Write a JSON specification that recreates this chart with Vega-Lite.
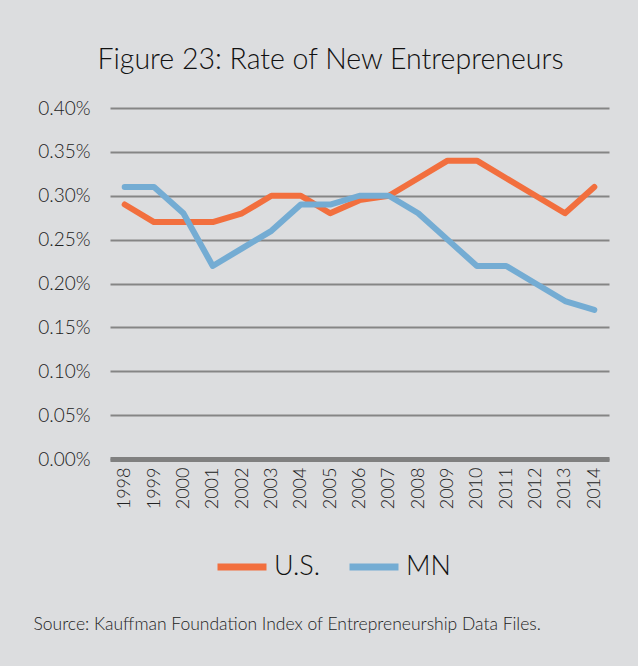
{
  "$schema": "https://vega.github.io/schema/vega-lite/v6.json",
  "autosize": {"type": "none"},
  "width": 499,
  "height": 351,
  "padding": {"left": 110, "top": 108, "right": 29, "bottom": 207},
  "background": "#dcdddf",
  "config": {
    "view": {"stroke": null},
    "font": "Lato"
  },
  "title": {
    "text": "Figure 23: Rate of New Entrepreneurs",
    "fontSize": 28.5,
    "fontWeight": 300,
    "font": "Lato",
    "color": "#111111",
    "anchor": "middle",
    "dx": -29,
    "offset": 25,
    "limit": 0
  },
  "data": {
    "values": [
      {"year": "1998", "series": "U.S.", "rate": 0.29},
      {"year": "1999", "series": "U.S.", "rate": 0.27},
      {"year": "2000", "series": "U.S.", "rate": 0.27},
      {"year": "2001", "series": "U.S.", "rate": 0.27},
      {"year": "2002", "series": "U.S.", "rate": 0.28},
      {"year": "2003", "series": "U.S.", "rate": 0.30},
      {"year": "2004", "series": "U.S.", "rate": 0.30},
      {"year": "2005", "series": "U.S.", "rate": 0.28},
      {"year": "2006", "series": "U.S.", "rate": 0.295},
      {"year": "2007", "series": "U.S.", "rate": 0.30},
      {"year": "2008", "series": "U.S.", "rate": 0.32},
      {"year": "2009", "series": "U.S.", "rate": 0.34},
      {"year": "2010", "series": "U.S.", "rate": 0.34},
      {"year": "2011", "series": "U.S.", "rate": 0.32},
      {"year": "2012", "series": "U.S.", "rate": 0.30},
      {"year": "2013", "series": "U.S.", "rate": 0.28},
      {"year": "2014", "series": "U.S.", "rate": 0.31},
      {"year": "1998", "series": "MN", "rate": 0.31},
      {"year": "1999", "series": "MN", "rate": 0.31},
      {"year": "2000", "series": "MN", "rate": 0.28},
      {"year": "2001", "series": "MN", "rate": 0.22},
      {"year": "2002", "series": "MN", "rate": 0.24},
      {"year": "2003", "series": "MN", "rate": 0.26},
      {"year": "2004", "series": "MN", "rate": 0.29},
      {"year": "2005", "series": "MN", "rate": 0.29},
      {"year": "2006", "series": "MN", "rate": 0.30},
      {"year": "2007", "series": "MN", "rate": 0.30},
      {"year": "2008", "series": "MN", "rate": 0.28},
      {"year": "2009", "series": "MN", "rate": 0.25},
      {"year": "2010", "series": "MN", "rate": 0.22},
      {"year": "2011", "series": "MN", "rate": 0.22},
      {"year": "2012", "series": "MN", "rate": 0.20},
      {"year": "2013", "series": "MN", "rate": 0.18},
      {"year": "2014", "series": "MN", "rate": 0.17}
    ]
  },
  "mark": {"type": "line", "strokeWidth": 6, "strokeCap": "round", "strokeJoin": "round"},
  "encoding": {
    "x": {
      "field": "year",
      "type": "ordinal",
      "scale": {"type": "point", "padding": 0.5},
      "axis": {
        "title": "Source: Kauffman Foundation Index of Entrepreneurship Data Files.",
        "titleFont": "Lato",
        "titleFontSize": 17.5,
        "titleFontWeight": 300,
        "titleColor": "#222222",
        "titleAlign": "left",
        "titleAnchor": "start",
        "titleBaseline": "alphabetic",
        "titleX": -77,
        "titleY": 170,
        "titleLimit": 0,
        "labelAngle": -90,
        "labelAlign": "right",
        "labelBaseline": "middle",
        "labelFontSize": 18,
        "labelFontWeight": 300,
        "labelColor": "#222222",
        "labelPadding": 8,
        "ticks": false,
        "domain": true,
        "domainColor": "#808080",
        "domainWidth": 5,
        "grid": false
      }
    },
    "y": {
      "field": "rate",
      "type": "quantitative",
      "scale": {"domain": [0, 0.4], "nice": false},
      "axis": {
        "title": null,
        "values": [0, 0.05, 0.1, 0.15, 0.2, 0.25, 0.3, 0.35, 0.4],
        "labelExpr": "format(datum.value, '.2f') + '%'",
        "labelFontSize": 19,
        "labelFontWeight": 300,
        "labelColor": "#222222",
        "labelPadding": 20,
        "ticks": false,
        "domain": false,
        "grid": true,
        "gridColor": "#858585",
        "gridWidth": 2
      }
    },
    "color": {
      "field": "series",
      "type": "nominal",
      "sort": ["U.S.", "MN"],
      "scale": {"domain": ["U.S.", "MN"], "range": ["#f26f3e", "#74acd3"]},
      "legend": {
        "title": null,
        "orient": "none",
        "direction": "horizontal",
        "legendX": 104,
        "legendY": 431,
        "symbolType": "stroke",
        "symbolSize": 2400,
        "symbolStrokeWidth": 7,
        "labelFontSize": 27,
        "labelFontWeight": 300,
        "labelColor": "#111111",
        "labelOffset": 4,
        "columnPadding": 14
      }
    }
  }
}
